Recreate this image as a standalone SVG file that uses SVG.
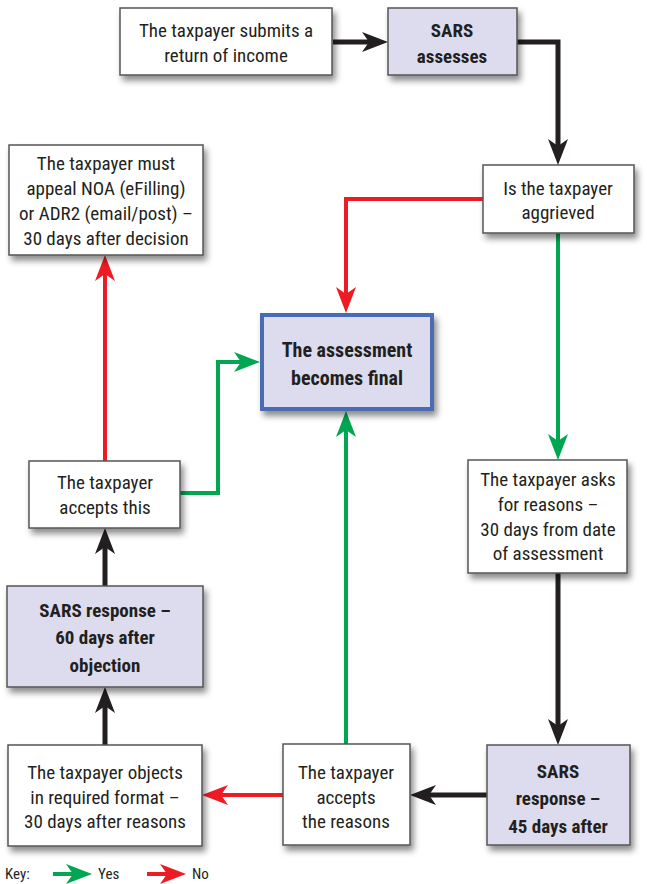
<svg xmlns="http://www.w3.org/2000/svg" width="647" height="884" viewBox="0 0 647 884">
<defs>
<filter id="sh" x="-20%" y="-20%" width="150%" height="150%">
<feDropShadow dx="3" dy="5" stdDeviation="3" flood-color="#000" flood-opacity="0.45"/>
</filter>
<marker id="ab" markerUnits="userSpaceOnUse" markerWidth="30" markerHeight="24" refX="14" refY="10" orient="auto" viewBox="0 0 30 24"><path d="M0,0 L26,10 L0,20 L7,10 z" fill="#231f20"/></marker>
<marker id="ag" markerUnits="userSpaceOnUse" markerWidth="30" markerHeight="24" refX="14" refY="10" orient="auto" viewBox="0 0 30 24"><path d="M0,0 L26,10 L0,20 L7,10 z" fill="#00a651"/></marker>
<marker id="ar" markerUnits="userSpaceOnUse" markerWidth="30" markerHeight="24" refX="14" refY="10" orient="auto" viewBox="0 0 30 24"><path d="M0,0 L26,10 L0,20 L7,10 z" fill="#ed1c24"/></marker>
</defs>
<style>
.b{fill:#fff;stroke:#555;stroke-width:1.5;filter:url(#sh)}
.p{fill:#dcdcee;stroke:#555;stroke-width:1.5;filter:url(#sh)}
.f{fill:#dcdcee;stroke:#4a6cb3;stroke-width:4;filter:url(#sh)}
text{font-family:"Liberation Sans Narrow","Roboto Condensed","DejaVu Sans Condensed","Liberation Sans",sans-serif;font-size:19px;fill:#231f20;text-anchor:middle}
.t{font-weight:bold}
.k{text-anchor:start;font-size:15px}
.cb{fill:none;stroke:#231f20;stroke-width:5}
.cg{fill:none;stroke:#00a651;stroke-width:4}
.cr{fill:none;stroke:#ed1c24;stroke-width:4}
</style>
<g id="connectors">
<path class="cb" d="M333,42 H376" marker-end="url(#ab)"/>
<path class="cb" d="M517,42 H558 V153" marker-end="url(#ab)"/>
<path class="cr" d="M483,199 H346 V301" marker-end="url(#ar)"/>
<path class="cg" d="M558,233 V448" marker-end="url(#ag)"/>
<path class="cb" d="M558,573 V733" marker-end="url(#ab)"/>
<path class="cb" d="M487,795 H422" marker-end="url(#ab)"/>
<path class="cg" d="M346,744 V423" marker-end="url(#ag)"/>
<path class="cr" d="M283,795 H214" marker-end="url(#ar)"/>
<path class="cb" d="M105,745 V699" marker-end="url(#ab)"/>
<path class="cb" d="M105,586 V540" marker-end="url(#ab)"/>
<path class="cr" d="M105,461 V267" marker-end="url(#ar)"/>
<path class="cg" d="M180,493 H218 V362 H248" marker-end="url(#ag)"/>
</g>
<g id="submit"><rect class="b" x="120" y="8" width="212" height="67"/><text x="226" y="37">The taxpayer submits a</text><text x="226" y="62">return of income</text></g>
<g id="assesses"><rect class="p" x="388" y="8" width="129" height="67"/><text class="t" x="452" y="37">SARS</text><text class="t" x="452" y="63">assesses</text></g>
<g id="aggrieved"><rect class="b" x="483" y="165" width="151" height="68"/><text x="558" y="195">Is the taxpayer</text><text x="558" y="219">aggrieved</text></g>
<g id="appeal"><rect class="b" x="9" y="145" width="194" height="110"/><text x="106" y="170">The taxpayer must</text><text x="106" y="195">appeal NOA (eFilling)</text><text x="106" y="220">or ADR2 (email/post) –</text><text x="106" y="245">30 days after decision</text></g>
<g id="final"><rect class="f" x="262" y="315" width="170" height="94"/><text class="t" x="347" y="357" style="font-size:20px">The assessment</text><text class="t" x="347" y="385" style="font-size:20px">becomes final</text></g>
<g id="acceptsthis"><rect class="b" x="29" y="461" width="151" height="67"/><text x="105" y="489">The taxpayer</text><text x="105" y="514">accepts this</text></g>
<g id="reasons"><rect class="b" x="468" y="460" width="159" height="113"/><text x="548" y="486">The taxpayer asks</text><text x="548" y="511">for reasons –</text><text x="548" y="536">30 days from date</text><text x="548" y="560">of assessment</text></g>
<g id="sars60"><rect class="p" x="7" y="586" width="196" height="101"/><text class="t" x="105" y="617">SARS response –</text><text class="t" x="105" y="644">60 days after</text><text class="t" x="105" y="672">objection</text></g>
<g id="objects"><rect class="b" x="8" y="745" width="194" height="101"/><text x="105" y="779">The taxpayer objects</text><text x="105" y="804">in required format –</text><text x="105" y="828">30 days after reasons</text></g>
<g id="acceptsreasons"><rect class="b" x="283" y="744" width="127" height="101"/><text x="346" y="779">The taxpayer</text><text x="346" y="804">accepts</text><text x="346" y="828">the reasons</text></g>
<g id="sars45"><rect class="p" x="487" y="745" width="143" height="100"/><text class="t" x="558" y="778">SARS</text><text class="t" x="558" y="805">response –</text><text class="t" x="558" y="833">45 days after</text></g>
<g id="key"><text class="k" x="5" y="879">Key:</text><path class="cg" d="M53,874 H80" marker-end="url(#ag)"/><text class="k" x="98" y="879">Yes</text><path class="cr" d="M147,874 H174" marker-end="url(#ar)"/><text class="k" x="192" y="879">No</text></g>
</svg>
